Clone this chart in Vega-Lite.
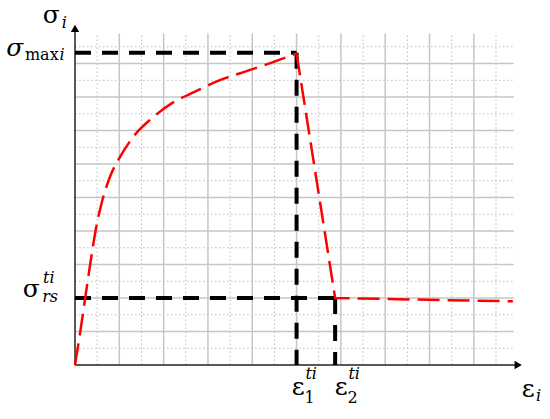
{
  "$schema": "https://vega.github.io/schema/vega-lite/v6.json",
  "autosize": {"type": "none"},
  "padding": {"left": 75, "top": 20, "right": 15, "bottom": 54},
  "width": 460,
  "height": 345,
  "background": "white",
  "view": {"stroke": null},
  "datasets": {
    "grid": [
      {"v": 0.5, "kind": "minor"}, {"v": 1, "kind": "major"},
      {"v": 1.5, "kind": "minor"}, {"v": 2, "kind": "major"},
      {"v": 2.5, "kind": "minor"}, {"v": 3, "kind": "major"},
      {"v": 3.5, "kind": "minor"}, {"v": 4, "kind": "major"},
      {"v": 4.5, "kind": "minor"}, {"v": 5, "kind": "major"},
      {"v": 5.5, "kind": "minor"}, {"v": 6, "kind": "major"},
      {"v": 6.5, "kind": "minor"}, {"v": 7, "kind": "major"},
      {"v": 7.5, "kind": "minor"}, {"v": 8, "kind": "major"},
      {"v": 8.5, "kind": "minor"}, {"v": 9, "kind": "major"},
      {"v": 9.5, "kind": "minor"}
    ],
    "rise": [
      {"i": 0, "x": 0, "y": 0},
      {"i": 1, "x": 0.12, "y": 1.0},
      {"i": 2, "x": 0.23, "y": 2.0},
      {"i": 3, "x": 0.38, "y": 3.33},
      {"i": 4, "x": 0.46, "y": 3.98},
      {"i": 5, "x": 0.6, "y": 4.83},
      {"i": 6, "x": 0.79, "y": 5.62},
      {"i": 7, "x": 1.02, "y": 6.22},
      {"i": 8, "x": 1.35, "y": 6.87},
      {"i": 9, "x": 1.73, "y": 7.36},
      {"i": 10, "x": 2.18, "y": 7.81},
      {"i": 11, "x": 2.71, "y": 8.16},
      {"i": 12, "x": 3.24, "y": 8.49},
      {"i": 13, "x": 3.77, "y": 8.73},
      {"i": 14, "x": 4.29, "y": 8.96},
      {"i": 15, "x": 5.0, "y": 9.3}
    ],
    "fall": [
      {"i": 0, "x": 5.0, "y": 9.3},
      {"i": 1, "x": 5.87, "y": 2.0},
      {"i": 2, "x": 9.88, "y": 1.9}
    ],
    "guides": [
      {"x": 0, "y": 9.32, "x2": 5.0, "y2": 9.32},
      {"x": 5.0, "y": 9.32, "x2": 5.0, "y2": 0},
      {"x": 0, "y": 2.0, "x2": 5.87, "y2": 2.0},
      {"x": 5.87, "y": 2.0, "x2": 5.87, "y2": 0}
    ],
    "labels": [
      {"role": "big", "x": -0.73, "y": 10.22, "t": "σ"},
      {"role": "subi", "x": -0.3, "y": 10.06, "t": "i"},
      {"role": "bigi", "x": -1.55, "y": 9.22, "t": "σ"},
      {"role": "sub", "x": -1.13, "y": 9.1, "t": "max"},
      {"role": "subi", "x": -0.35, "y": 9.1, "t": "i"},
      {"role": "big", "x": -1.18, "y": 2.03, "t": "σ"},
      {"role": "subi", "x": -0.72, "y": 2.44, "t": "ti"},
      {"role": "subi", "x": -0.74, "y": 1.87, "t": "rs"},
      {"role": "big", "x": 4.89, "y": -0.9, "t": "ε"},
      {"role": "subi", "x": 5.2, "y": -0.42, "t": "ti"},
      {"role": "sub", "x": 5.18, "y": -1.14, "t": "1"},
      {"role": "big", "x": 5.86, "y": -0.9, "t": "ε"},
      {"role": "subi", "x": 6.17, "y": -0.42, "t": "ti"},
      {"role": "sub", "x": 6.15, "y": -1.14, "t": "2"},
      {"role": "big", "x": 10.08, "y": -0.96, "t": "ε"},
      {"role": "subi", "x": 10.4, "y": -1.08, "t": "i"}
    ]
  },
  "encoding": {
    "x": {"type": "quantitative", "scale": {"domain": [0, 10.38], "nice": false, "zero": false}, "axis": null},
    "y": {"type": "quantitative", "scale": {"domain": [0, 10.3], "nice": false, "zero": false}, "axis": null}
  },
  "layer": [
    {
      "data": {"name": "grid"},
      "transform": [{"filter": "datum.kind === 'minor'"}],
      "mark": {"type": "rule", "color": "#bdbdbd", "strokeWidth": 1, "strokeDash": [1.5, 2.5]},
      "encoding": {"x": {"field": "v"}, "y": {"datum": 0}, "y2": {"datum": 9.9}}
    },
    {
      "data": {"name": "grid"},
      "transform": [{"filter": "datum.kind === 'minor'"}],
      "mark": {"type": "rule", "color": "#bdbdbd", "strokeWidth": 1, "strokeDash": [1.5, 2.5]},
      "encoding": {"y": {"field": "v"}, "x": {"datum": 0}, "x2": {"datum": 9.9}}
    },
    {
      "data": {"name": "grid"},
      "transform": [{"filter": "datum.kind === 'major'"}],
      "mark": {"type": "rule", "color": "#c6c6c6", "strokeWidth": 1.5},
      "encoding": {"x": {"field": "v"}, "y": {"datum": 0}, "y2": {"datum": 9.9}}
    },
    {
      "data": {"name": "grid"},
      "transform": [{"filter": "datum.kind === 'major'"}],
      "mark": {"type": "rule", "color": "#c6c6c6", "strokeWidth": 1.5},
      "encoding": {"y": {"field": "v"}, "x": {"datum": 0}, "x2": {"datum": 9.9}}
    },
    {
      "data": {"values": [{"a": 1}]},
      "mark": {"type": "rule", "color": "#222222", "strokeWidth": 1.5},
      "encoding": {"x": {"datum": 0}, "y": {"datum": 0}, "y2": {"datum": 10.0}}
    },
    {
      "data": {"values": [{"a": 1}]},
      "mark": {"type": "rule", "color": "#222222", "strokeWidth": 1.5},
      "encoding": {"y": {"datum": 0}, "x": {"datum": 0}, "x2": {"datum": 9.95}}
    },
    {
      "data": {"values": [{"a": 1}]},
      "mark": {"type": "point", "shape": "triangle-up", "filled": true, "color": "#000000", "size": 70, "opacity": 1},
      "encoding": {"x": {"datum": 0}, "y": {"datum": 10.05}}
    },
    {
      "data": {"values": [{"a": 1}]},
      "mark": {"type": "point", "shape": "triangle-right", "filled": true, "color": "#000000", "size": 70, "opacity": 1},
      "encoding": {"x": {"datum": 10.0}, "y": {"datum": 0}}
    },
    {
      "data": {"name": "guides"},
      "mark": {"type": "rule", "color": "#000000", "strokeWidth": 4, "strokeDash": [16, 11]},
      "encoding": {"x": {"field": "x"}, "y": {"field": "y"}, "x2": {"field": "x2"}, "y2": {"field": "y2"}}
    },
    {
      "data": {"name": "rise"},
      "mark": {"type": "line", "color": "#ff0000", "strokeWidth": 2.5, "strokeDash": [22, 8], "interpolate": "monotone"},
      "encoding": {"x": {"field": "x"}, "y": {"field": "y"}, "order": {"field": "i"}}
    },
    {
      "data": {"name": "fall"},
      "mark": {"type": "line", "color": "#ff0000", "strokeWidth": 2.5, "strokeDash": [22, 8], "interpolate": "linear"},
      "encoding": {"x": {"field": "x"}, "y": {"field": "y"}, "order": {"field": "i"}}
    },
    {
      "data": {"name": "labels"},
      "transform": [{"filter": "datum.role === 'big'"}],
      "mark": {"type": "text", "font": "DejaVu Serif", "fontSize": 25, "align": "left", "baseline": "alphabetic", "color": "#000000"},
      "encoding": {"x": {"field": "x"}, "y": {"field": "y"}, "text": {"field": "t"}}
    },
    {
      "data": {"name": "labels"},
      "transform": [{"filter": "datum.role === 'bigi'"}],
      "mark": {"type": "text", "font": "DejaVu Serif", "fontSize": 25, "fontStyle": "italic", "align": "left", "baseline": "alphabetic", "color": "#000000"},
      "encoding": {"x": {"field": "x"}, "y": {"field": "y"}, "text": {"field": "t"}}
    },
    {
      "data": {"name": "labels"},
      "transform": [{"filter": "datum.role === 'subi'"}],
      "mark": {"type": "text", "font": "DejaVu Serif", "fontSize": 16, "fontStyle": "italic", "align": "left", "baseline": "alphabetic", "color": "#000000"},
      "encoding": {"x": {"field": "x"}, "y": {"field": "y"}, "text": {"field": "t"}}
    },
    {
      "data": {"name": "labels"},
      "transform": [{"filter": "datum.role === 'sub'"}],
      "mark": {"type": "text", "font": "DejaVu Serif", "fontSize": 16, "align": "left", "baseline": "alphabetic", "color": "#000000"},
      "encoding": {"x": {"field": "x"}, "y": {"field": "y"}, "text": {"field": "t"}}
    }
  ]
}
